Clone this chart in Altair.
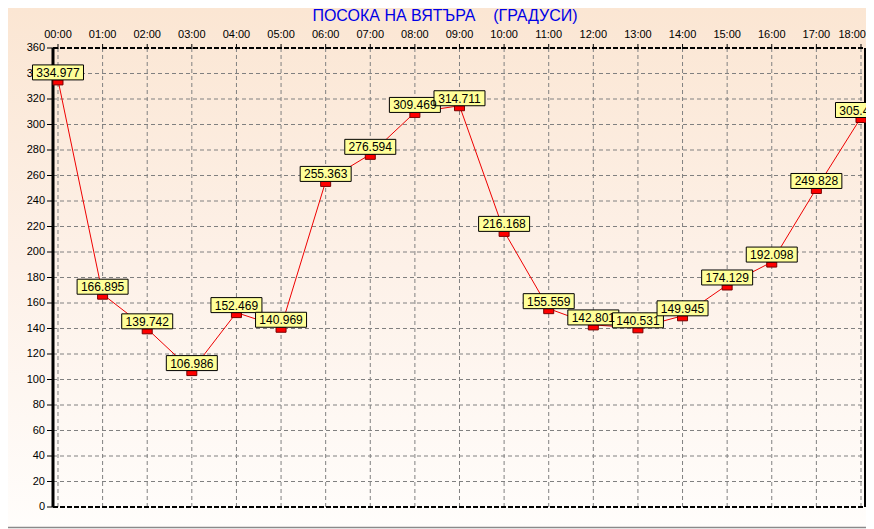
import altair as alt
import pandas as pd

# ---- data ----
hours = list(range(19))
hour_labels = ["00:00", "01:00", "02:00", "03:00", "04:00", "05:00", "06:00",
               "07:00", "08:00", "09:00", "10:00", "11:00", "12:00", "13:00",
               "14:00", "15:00", "16:00", "17:00", "18:00"]
wind_dir = [334.977, 166.895, 139.742, 106.986, 152.469, 140.969, 255.363,
            276.594, 309.469, 314.711, 216.168, 155.559, 142.801, 140.531,
            149.945, 174.129, 192.098, 249.828, 305.484]
y_ticks = list(range(0, 361, 20))
y_tick_labels = [str(v) for v in y_ticks]
title_text = "ПОСОКА НА ВЯТЪРА\u00a0\u00a0\u00a0\u00a0(ГРАДУСИ)"

W, H = 812, 459
FONT = "Liberation Sans, Arial, sans-serif"

df = pd.DataFrame({"hour": hours, "value": wind_dir})
xdf = pd.DataFrame({"hour": hours, "label": hour_labels})
ydf = pd.DataFrame({"tick": y_ticks, "label": y_tick_labels})
one = pd.DataFrame({"a": [0]})

xs = alt.Scale(domain=[-0.112, 18.09], nice=False, zero=False)
ys = alt.Scale(domain=[0, 360], nice=False, zero=False)

def X(f):
    return alt.X(f, scale=xs, axis=None)

def Y(f):
    return alt.Y(f, scale=ys, axis=None)

bg = alt.Chart(one).mark_rect(
    fill=alt.Gradient(gradient="linear",
                      stops=[alt.GradientStop(color="#FBE6D3", offset=0),
                             alt.GradientStop(color="#FDF1E8", offset=0.5),
                             alt.GradientStop(color="#FFFDFB", offset=1)],
                      x1=0, y1=0, x2=0, y2=1)
).encode(x=alt.value(-45), x2=alt.value(W + 1), y=alt.value(-40), y2=alt.value(H + 20))

bottom_line = alt.Chart(one).mark_rule(color="#8a8a8a", strokeWidth=1.5).encode(
    x=alt.value(-45), x2=alt.value(W + 1), y=alt.value(H + 20.5))

vgrid = alt.Chart(xdf).mark_rule(color="#808080", strokeWidth=1, strokeDash=[4, 3]).encode(
    x=X("hour:Q"), y=alt.value(0), y2=alt.value(H))

hgrid_df = ydf[(ydf.tick > 0) & (ydf.tick < 360)]
hgrid = alt.Chart(hgrid_df).mark_rule(color="#808080", strokeWidth=1, strokeDash=[4, 3]).encode(
    y=Y("tick:Q"), x=alt.value(0), x2=alt.value(W))

edge_df = ydf[(ydf.tick == 0) | (ydf.tick == 360)]
hedge = alt.Chart(edge_df).mark_rule(color="#000000", strokeWidth=2, strokeDash=[5, 2]).encode(
    y=Y("tick:Q"), x=alt.value(0), x2=alt.value(W))

right_edge = alt.Chart(one).mark_rule(color="#000000", strokeWidth=2).encode(
    x=alt.value(W), y=alt.value(0), y2=alt.value(H))

left_axis = alt.Chart(one).mark_rule(color="#000000", strokeWidth=3).encode(
    x=alt.value(0), y=alt.value(0), y2=alt.value(H))

yticks = alt.Chart(ydf).mark_rule(color="#000000", strokeWidth=1).encode(
    y=Y("tick:Q"), x=alt.value(-6), x2=alt.value(0))

ylabels = alt.Chart(ydf).mark_text(align="right", baseline="middle", fontSize=11,
                                   font=FONT, color="#000000").encode(
    y=Y("tick:Q"), x=alt.value(-8), text="label:N")

xticks = alt.Chart(xdf).mark_rule(color="#000000", strokeWidth=1).encode(
    x=X("hour:Q"), y=alt.value(-4), y2=alt.value(1))

xlabels = alt.Chart(xdf).transform_filter("datum.hour < 18").mark_text(
    align="center", baseline="middle", fontSize=11, font=FONT, color="#000000").encode(
    x=X("hour:Q"), y=alt.value(-13), text="label:N")

xlabel_last = alt.Chart(xdf).transform_filter("datum.hour == 18").mark_text(
    align="right", baseline="middle", fontSize=11, font=FONT, color="#000000", dx=5).encode(
    x=X("hour:Q"), y=alt.value(-13), text="label:N")

line = alt.Chart(df).mark_line(color="#EE0000", strokeWidth=1).encode(
    x=X("hour:Q"), y=Y("value:Q"))

markers = alt.Chart(df).mark_point(
    shape="M-1,-0.5H1V0.5H-1Z", size=100, filled=True, fill="#FF0000",
    stroke="#7A0000", strokeWidth=1, opacity=1, yOffset=2.5
).encode(x=X("hour:Q"), y=Y("value:Q"))

boxes = alt.Chart(df).mark_point(
    shape="M-1,-0.294H1V0.294H-1Z", size=51 * 51, filled=True, fill="#FFFF99",
    stroke="#000000", strokeWidth=1, opacity=1, yOffset=-7.5
).encode(x=X("hour:Q"), y=Y("value:Q"))

texts = alt.Chart(df).mark_text(fontSize=12, font=FONT, color="#000000",
                                baseline="middle", align="center", yOffset=-7).encode(
    x=X("hour:Q"), y=Y("value:Q"), text=alt.Text("value:Q", format=".3f"))

chart = alt.layer(
    bg, bottom_line, vgrid, hgrid, hedge, right_edge, left_axis, yticks, ylabels,
    xticks, xlabels, xlabel_last, line, markers, boxes, texts
).properties(
    width=W, height=H,
    title=alt.Title(title_text, fontSize=16, font=FONT, fontWeight="normal",
                    color="#0000E6", anchor="middle", dx=-14, offset=-16),
    autosize=alt.AutoSizeParams(type="none"),
    padding={"left": 45, "top": 40, "right": 1, "bottom": 22},
).configure_view(stroke=None).configure(background="#FFFFFF")

chart.save("out.html", embed_options={"renderer": "svg", "actions": False})
